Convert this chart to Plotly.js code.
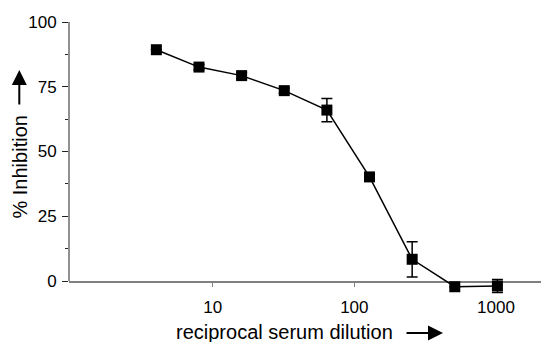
<!DOCTYPE html>
<html>
<head>
<meta charset="utf-8">
<script src="https://cdn.plot.ly/plotly-3.0.1.min.js"></script>
<style>html,body{margin:0;padding:0;background:#fff;}#chart{width:541px;height:342px;}</style>
</head>
<body>
<div id="chart"></div>
<script>
// Data
const dilution = [4, 8, 16, 32, 64, 128, 256, 512, 1024];
const inhibition = [89.3, 82.6, 79.3, 73.5, 66.0, 40.2, 8.4, -2.2, -1.9];
const errorValues = [0, 1, 1.2, 1, 4.5, 1, 6.8, 0, 2.5];
const xTickValues = [10, 100, 1000];
const xTickLabels = ['10', '100', '1000'];
const yTickValues = [0, 25, 50, 75, 100];
const xTitleText = 'reciprocal serum dilution';
const yTitleText = '% Inhibition';

const W = 541, H = 342;
const yMin = -5, yMax = 100;
const pxPerUnit = 2.59;
const L = 69, R = 0, T = 22;
const B = H - (281 + (-yMin) * pxPerUnit);
const pw = W - L - R, ph = H - T - B;
const px = x => (x - L) / pw;
const py = y => (H - B - y) / ph;

const trace = {
  x: dilution,
  y: inhibition,
  type: 'scatter',
  mode: 'lines+markers',
  cliponaxis: false,
  line: {color: '#000', width: 1.5},
  marker: {symbol: 'square', size: 11, color: '#000'},
  error_y: {type: 'data', array: errorValues, visible: true, color: '#000', thickness: 1.5, width: 5.5}
};

const layout = {
  width: W, height: H,
  margin: {l: L, r: R, t: T, b: B, pad: 0},
  paper_bgcolor: '#fff', plot_bgcolor: '#fff',
  showlegend: false,
  font: {family: 'Liberation Sans, Arial, sans-serif', color: '#000', size: 17},
  xaxis: {
    type: 'log',
    range: [-0.0148, 3.318],
    anchor: 'free',
    position: (0 - yMin) / (yMax - yMin),
    tickvals: xTickValues,
    ticktext: xTickLabels,
    ticks: 'outside', ticklen: 4, tickwidth: 1, tickcolor: '#808080',
    showline: true, linecolor: '#808080', linewidth: 1.5,
    showgrid: false, zeroline: false,
    tickfont: {size: 17},
    ticklabelstandoff: 6,
    layer: 'below traces'
  },
  yaxis: {
    range: [yMin, yMax],
    tickvals: yTickValues,
    ticks: 'outside', ticklen: 6, tickwidth: 1, tickcolor: '#222',
    minor: {tickvals: [12.5, 37.5, 62.5, 87.5], ticks: 'outside', ticklen: 3, tickcolor: '#222', tickwidth: 1, showgrid: false},
    showline: false,
    showgrid: false, zeroline: false,
    tickfont: {size: 17},
    ticklabelstandoff: 2
  },
  shapes: [
    {type: 'line', xref: 'paper', yref: 'y', x0: 0, x1: 0, y0: 0, y1: yMax,
     line: {color: '#222', width: 1}, layer: 'below'}
  ],
  annotations: [
    {xref: 'paper', yref: 'paper', x: px(284), y: py(332), text: xTitleText, showarrow: false,
     xanchor: 'center', yanchor: 'middle', font: {size: 20}},
    {xref: 'paper', yref: 'paper', x: px(20), y: py(167.5), text: yTitleText, showarrow: false,
     textangle: -90, xanchor: 'center', yanchor: 'middle', font: {size: 20}},
    {xref: 'paper', yref: 'paper', x: px(443), y: py(333), text: '', showarrow: true,
     ax: -38, ay: 0, arrowhead: 2, arrowsize: 1.5, arrowwidth: 2, arrowcolor: '#000', standoff: 0},
    {xref: 'paper', yref: 'paper', x: px(19.3), y: py(70), text: '', showarrow: true,
     ax: 0, ay: 36, arrowhead: 2, arrowsize: 1.5, arrowwidth: 2, arrowcolor: '#000', standoff: 0}
  ]
};

Plotly.newPlot('chart', [trace], layout, {staticPlot: true, displayModeBar: false});
</script>
</body>
</html>
